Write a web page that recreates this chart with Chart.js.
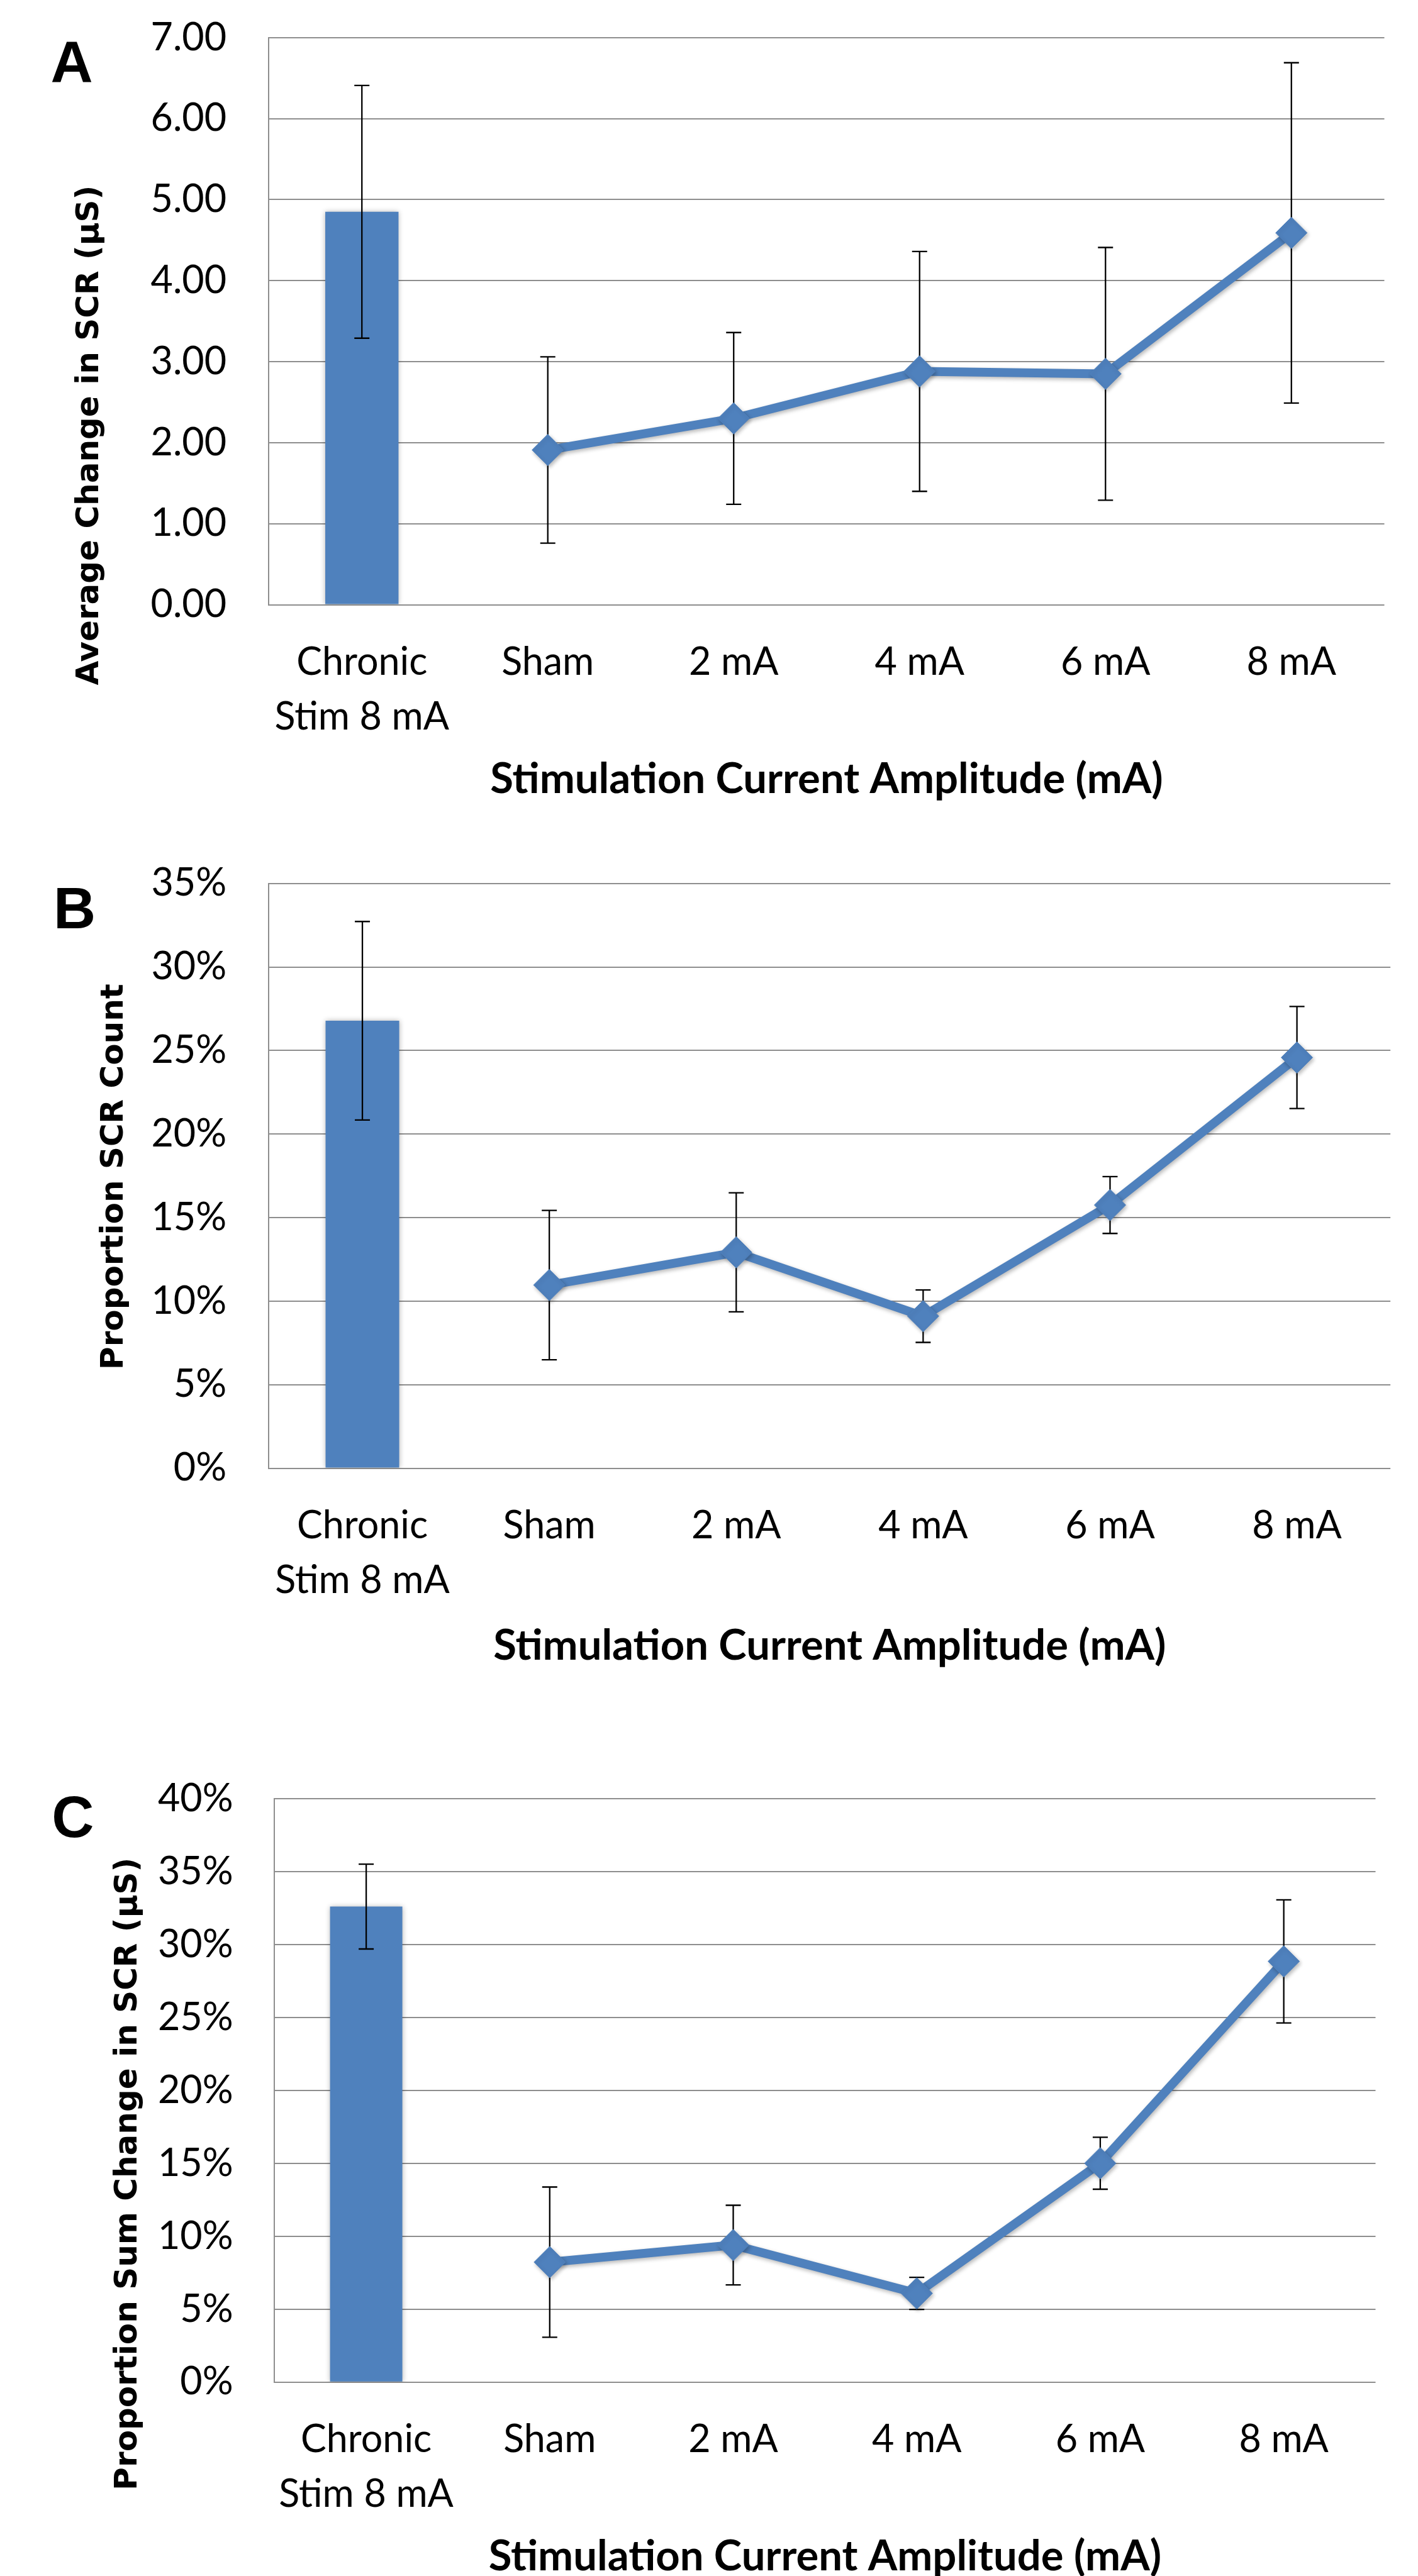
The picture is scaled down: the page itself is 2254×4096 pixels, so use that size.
<!DOCTYPE html>
<html>
<head>
<meta charset="utf-8">
<script src="https://cdn.jsdelivr.net/npm/chart.js@4.4.1/dist/chart.umd.min.js"></script>
<style>
html,body{margin:0;padding:0;background:#fff;}
#wrap{position:relative;width:2254px;height:4096px;overflow:hidden;background:#fff;}
canvas{position:absolute;left:0;}
</style>
</head>
<body>
<div id="wrap">
<canvas id="cA"></canvas>
<canvas id="cB"></canvas>
<canvas id="cC"></canvas>
</div>
<script>
// ---------- data ----------
const categories = [['Chronic', 'Stim 8 mA'], 'Sham', '2 mA', '4 mA', '6 mA', '8 mA'];
const xAxisTitle = 'Stimulation Current Amplitude (mA)';

// Panel A: Average Change in SCR (µS)
const aTitle = 'Average Change in SCR (\u03bcS)';
const aBar = [4.85, null, null, null, null, null];
const aBarErr = [1.56, null, null, null, null, null];
const aLine = [null, 1.91, 2.30, 2.88, 2.85, 4.59];
const aLineErr = [null, 1.15, 1.06, 1.48, 1.56, 2.10];
const aYMax = 7, aYStep = 1;

// Panel B: Proportion SCR Count (%)
const bTitle = 'Proportion SCR Count';
const bBar = [26.78, null, null, null, null, null];
const bBarErr = [5.94, null, null, null, null, null];
const bLine = [null, 10.96, 12.92, 9.10, 15.75, 24.58];
const bLineErr = [null, 4.47, 3.56, 1.57, 1.70, 3.05];
const bYMax = 35, bYStep = 5;

// Panel C: Proportion Sum Change in SCR (%)
const cTitle = 'Proportion Sum Change in SCR (\u03bcS)';
const cBar = [32.61, null, null, null, null, null];
const cBarErr = [2.91, null, null, null, null, null];
const cLine = [null, 8.23, 9.40, 6.09, 15.01, 28.85];
const cLineErr = [null, 5.15, 2.73, 1.10, 1.78, 4.22];
const cYMax = 40, cYStep = 5;

// ---------- styling / layout ----------
const S = 0.876;          // reference -> page scale
const W = 2254;
const BLUE = '#4F81BD';
const GRID = '#8E8E8E';
const TICK_FONT = 'Lato, "Liberation Sans Narrow", "Liberation Sans", sans-serif';

function drawErrors(chart, di) {
  const ds = chart.data.datasets[di];
  const meta = chart.getDatasetMeta(di);
  const ys = chart.scales.y;
  const ctx = chart.ctx;
  const cap = 12;
  ctx.save();
  ctx.strokeStyle = '#000';
  ctx.lineWidth = 2.3;
  ds.data.forEach((v, i) => {
    if (v === null || v === undefined) return;
    const e = ds.errors[i];
    if (!e) return;
    const x = meta.data[i].x;
    const yt = ys.getPixelForValue(v + e);
    const yb = ys.getPixelForValue(v - e);
    ctx.beginPath();
    ctx.moveTo(x, yt); ctx.lineTo(x, yb);
    ctx.moveTo(x - cap, yt); ctx.lineTo(x + cap, yt);
    ctx.moveTo(x - cap, yb); ctx.lineTo(x + cap, yb);
    ctx.stroke();
  });
  ctx.restore();
}

const errorAndShadow = {
  id: 'errorAndShadow',
  beforeDatasetDraw(chart, args) {
    const ctx = chart.ctx;
    if (args.index === 1) drawErrors(chart, 1);
    ctx.save();
    if (args.index === 1) {
      ctx.shadowColor = 'rgba(0,0,0,0.28)';
      ctx.shadowBlur = 6;
      ctx.shadowOffsetX = 2;
      ctx.shadowOffsetY = 3;
    } else {
      ctx.shadowColor = 'rgba(0,0,0,0.3)';
      ctx.shadowBlur = 8;
      ctx.shadowOffsetX = 0;
      ctx.shadowOffsetY = 0;
    }
  },
  afterDatasetDraw(chart, args) {
    chart.ctx.restore();
    if (args.index === 0) drawErrors(chart, 0);
  }
};

function makePanel(id, p) {
  const top = Math.round(p.band[0] * S);
  const h = Math.round(p.band[1] * S) - top;
  const canvas = document.getElementById(id);
  canvas.width = W;
  canvas.height = h;
  canvas.style.top = top + 'px';
  canvas.style.width = W + 'px';
  canvas.style.height = h + 'px';

  const plotL = p.plot.l * S;
  const plotR = p.plot.r * S;
  const plotT = p.plot.t * S - top;
  const plotB = p.plot.b * S - top;

  const decor = {
    id: 'decor' + id,
    afterDraw(chart) {
      const ctx = chart.ctx;
      ctx.save();
      ctx.fillStyle = '#000';
      // panel letter
      ctx.font = 'bold ' + Math.round(106 * S) + 'px "Liberation Sans", Arial, sans-serif';
      ctx.textAlign = 'left';
      ctx.textBaseline = 'alphabetic';
      ctx.fillText(p.letter, p.letterPos[0] * S, p.letterPos[1] * S - top);
      // x-axis title
      ctx.font = 'bold ' + Math.round(76 * S) + 'px ' + TICK_FONT;
      ctx.textAlign = 'center';
      ctx.fillText(xAxisTitle, (chart.chartArea.left + chart.chartArea.right) / 2, p.xTitleBase * S - top);
      // y-axis title (rotated)
      ctx.font = 'bold ' + Math.round(57 * S) + 'px "DejaVu Sans", Verdana, sans-serif';
      ctx.translate(p.yTitlePos[0] * S, p.yTitlePos[1] * S - top);
      ctx.rotate(-Math.PI / 2);
      ctx.textAlign = 'center';
      ctx.textBaseline = 'alphabetic';
      ctx.fillText(p.yTitle, 0, 0);
      ctx.restore();
    }
  };

  return new Chart(canvas, {
    data: {
      labels: categories,
      datasets: [
        {
          type: 'bar',
          data: p.bar,
          errors: p.barErr,
          backgroundColor: BLUE,
          borderWidth: 0,
          barPercentage: 0.394,
          categoryPercentage: 1
        },
        {
          type: 'line',
          data: p.line,
          errors: p.lineErr,
          borderColor: BLUE,
          backgroundColor: BLUE,
          borderWidth: 14,
          borderJoinStyle: 'round',
          borderCapStyle: 'round',
          tension: 0,
          fill: false,
          spanGaps: false,
          pointStyle: 'rectRot',
          pointRadius: 25,
          pointBackgroundColor: BLUE,
          pointBorderColor: BLUE,
          pointBorderWidth: 1
        }
      ]
    },
    options: {
      responsive: false,
      animation: false,
      devicePixelRatio: 1,
      layout: { padding: { left: 0, right: W - plotR, top: plotT, bottom: 0 } },
      plugins: { legend: { display: false }, tooltip: { enabled: false } },
      scales: {
        x: {
          type: 'category',
          offset: true,
          grid: { display: false, drawTicks: false },
          border: { display: false },
          ticks: {
            color: '#000',
            font: { family: TICK_FONT, size: 61, lineHeight: 1.43 },
            padding: 48,
            maxRotation: 0,
            autoSkip: false
          },
          afterFit(s) { s.height = h - plotB; s.paddingLeft = 0; s.paddingRight = 0; }
        },
        y: {
          min: 0,
          max: p.yMax,
          grid: { color: GRID, lineWidth: 2, drawTicks: false },
          border: { display: true, color: GRID, width: 2 },
          ticks: {
            stepSize: p.yStep,
            color: '#000',
            font: { family: TICK_FONT, size: 61 },
            padding: p.tickGap * S,
            callback: p.fmt
          },
          afterFit(s) { s.width = plotL; s.paddingTop = 0; s.paddingBottom = 0; }
        }
      }
    },
    plugins: [errorAndShadow, decor]
  });
}

const fmtFixed = v => v.toFixed(2);
const fmtPct = v => Math.round(v) + '%';

makePanel('cA', {
  band: [0, 1520], plot: { l: 488, r: 2512, t: 68.3, b: 1097.7 }, tickGap: 77,
  letter: 'A', letterPos: [92, 148], yTitle: aTitle, yTitlePos: [178, 790], xTitleBase: 1440,
  bar: aBar, barErr: aBarErr, line: aLine, lineErr: aLineErr, yMax: aYMax, yStep: aYStep, fmt: fmtFixed
});
makePanel('cB', {
  band: [1520, 3100], plot: { l: 488, r: 2523, t: 1603.5, b: 2665 }, tickGap: 77,
  letter: 'B', letterPos: [97, 1685], yTitle: bTitle, yTitlePos: [223, 2136], xTitleBase: 3013,
  bar: bBar, barErr: bBarErr, line: bLine, lineErr: bLineErr, yMax: bYMax, yStep: bYStep, fmt: fmtPct
});
makePanel('cC', {
  band: [3100, 4676], plot: { l: 498, r: 2496, t: 3265, b: 4324 }, tickGap: 75,
  letter: 'C', letterPos: [94, 3334], yTitle: cTitle, yTitlePos: [248, 3946], xTitleBase: 4665,
  bar: cBar, barErr: cBarErr, line: cLine, lineErr: cLineErr, yMax: cYMax, yStep: cYStep, fmt: fmtPct
});
</script>
</body>
</html>
